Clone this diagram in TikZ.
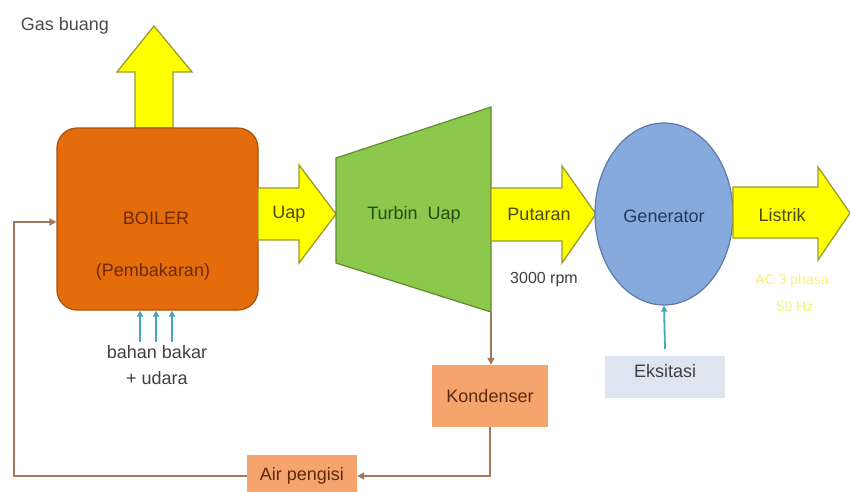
\documentclass[tikz,border=0pt]{standalone}
\usepackage{fontspec}
\setmainfont{Liberation Sans}
\usetikzlibrary{shapes.geometric,arrows.meta}
\definecolor{arrYel}{HTML}{FFFF00}
\definecolor{arrEdge}{HTML}{9A9A2E}
\definecolor{boilFill}{HTML}{E46C0A}
\definecolor{boilEdge}{HTML}{A5520F}
\definecolor{boilTxt}{HTML}{6E2A05}
\definecolor{turbFill}{HTML}{8CC84B}
\definecolor{turbEdge}{HTML}{5E8A30}
\definecolor{turbTxt}{HTML}{2A4A12}
\definecolor{genFill}{HTML}{86AADC}
\definecolor{genEdge}{HTML}{5D7BA6}
\definecolor{genTxt}{HTML}{1F3A66}
\definecolor{kondFill}{HTML}{F5A46E}
\definecolor{kondTxt}{HTML}{5E2A0E}
\definecolor{eksFill}{HTML}{DCE5F0}
\definecolor{pipe}{HTML}{A3785C}
\definecolor{teal}{HTML}{45A8B5}
\definecolor{yelTxt}{HTML}{4A4A08}
\definecolor{acTxt}{HTML}{F3F37A}
\tikzset{
  flowarrow/.style={fill=arrYel,draw=arrEdge,line width=1.3pt,line join=miter},
  lbl/.style={font=\fontsize{18}{20}\selectfont},
  pipeline/.style={draw=pipe,line width=2pt,-{Triangle[length=7pt,width=7pt]}},
  pipeplain/.style={draw=pipe,line width=2pt},
  feedarrow/.style={draw=teal,line width=1.8pt,-{Triangle[length=6pt,width=6pt]}},
  boxsq/.style={rectangle,inner sep=0pt}
}
\begin{document}
\begin{tikzpicture}[x=1pt,y=-1pt]
\useasboundingbox (0,0) rectangle (850,491);
\fill[white] (0,0) rectangle (850,491);

% Gas buang arrow
\draw[flowarrow] (135,128) -- (135,72) -- (117,72) -- (154,26) -- (192,72) -- (173,72) -- (173,128) -- cycle;
\node[lbl,text=black!70] (gas) at (65,26) {Gas buang};

% Boiler
\node[boxsq,draw=boilEdge,fill=boilFill,line width=1.2pt,rounded corners=20pt,minimum width=201pt,minimum height=182pt] (boiler) at (157.5,219) {};
\node[lbl,text=boilTxt] (boilT) at (156,218) {BOILER};
\node[lbl,text=boilTxt] (boilP) at (153,272) {(Pembakaran)};

% Uap arrow
\draw[flowarrow] (258,188) -- (299,188) -- (299,165) -- (336,214) -- (299,263) -- (299,240) -- (258,240) -- cycle;
\node[lbl,text=yelTxt] (uap) at (289,214) {Uap};

% Turbine
\draw[fill=turbFill,draw=turbEdge,line width=1.2pt] (336,158) -- (491,107) -- (491,312) -- (336,263) -- cycle;
\node[lbl,text=turbTxt] (turb) at (414,215) {Turbin\ \ Uap};
\coordinate (turbOut) at (491,312);

% Putaran arrow
\draw[flowarrow] (491,188) -- (562,188) -- (562,166) -- (596,214) -- (562,263) -- (562,241) -- (491,241) -- cycle;
\node[lbl,text=yelTxt] (put) at (539,214) {Putaran};
\node[font=\fontsize{16}{18}\selectfont,text=black!75] (rpm) at (544,280) {3000 rpm};

% Generator
\node[ellipse,draw=genEdge,fill=genFill,line width=1.2pt,minimum width=138pt,minimum height=182pt,inner sep=0pt] (gen) at (664,214) {};
\node[lbl,text=genTxt] (genT) at (664,216) {Generator};

% Listrik arrow
\draw[flowarrow] (733,187) -- (818,187) -- (818,167) -- (850,213) -- (818,260) -- (818,238) -- (733,238) -- cycle;
\node[lbl,text=yelTxt] (lis) at (782,215) {Listrik};
\node[font=\fontsize{14}{16}\selectfont,text=acTxt] (ac1) at (792,281) {AC 3 phasa};
\node[font=\fontsize{14}{16}\selectfont,text=acTxt] (ac2) at (795,307) {50 Hz};

% Eksitasi
\node[boxsq,fill=eksFill,minimum width=120pt,minimum height=42pt] (eks) at (665,377) {};
\node[lbl,text=black!75] (eksT) at (665,371) {Eksitasi};
\coordinate (eksTop) at (665,349);
\draw[feedarrow] (eksTop) -- (gen.south);

% Fuel
\node[lbl,text=black!75] (fuel) at (157,352) {bahan bakar};
\node[lbl,text=black!75] (udara) at (157,378) {+ udara};
\coordinate (f1) at (140,342);
\coordinate (f2) at (156,342);
\coordinate (f3) at (172,342);
\draw[feedarrow] (f1) -- (f1 |- boiler.south);
\draw[feedarrow] (f2) -- (f2 |- boiler.south);
\draw[feedarrow] (f3) -- (f3 |- boiler.south);

% Kondenser
\node[boxsq,fill=kondFill,minimum width=116pt,minimum height=62pt] (kond) at (490,396) {};
\node[lbl,text=kondTxt] (kondT) at (490,396) {Kondenser};
\draw[pipeline] (turbOut) -- (kond.north -| turbOut);

% Air pengisi
\node[boxsq,fill=kondFill,minimum width=110pt,minimum height=44pt] (air) at (302,477) {};
\node[lbl,text=kondTxt] (airT) at (302,476) {Air pengisi};
\coordinate (c1) at (490,476);
\coordinate (c2) at (14,476);
\coordinate (c3) at (14,222);
\draw[pipeline] (kond.south) -- (c1) -- (air.east |- c1);
\draw[pipeline] (air.west |- c2) -- (c2) -- (c3) -- (boiler.west |- c3);
\end{tikzpicture}
\end{document}
